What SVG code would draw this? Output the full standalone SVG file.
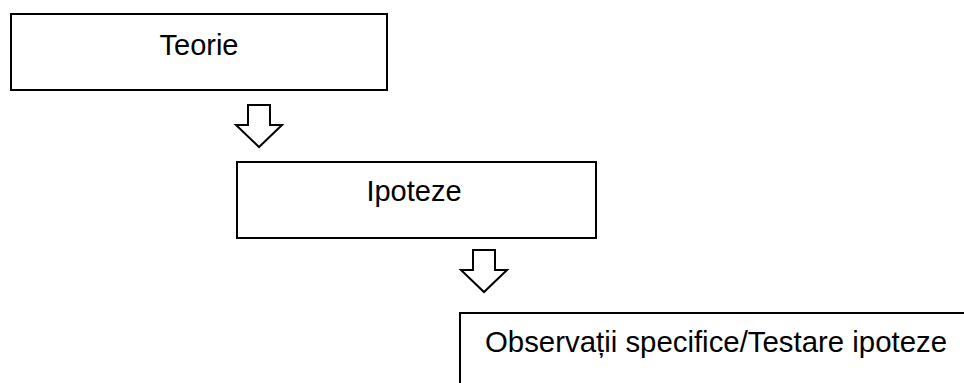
<svg xmlns="http://www.w3.org/2000/svg" width="964" height="383" viewBox="0 0 964 383">
<style>
.box{fill:#fff;stroke:#000;stroke-width:2}
.lbl{font-family:"Liberation Sans",Arial,sans-serif;font-size:29px;fill:#000}
.arr{fill:#fff;stroke:#000;stroke-width:2;stroke-linejoin:miter}
</style>
<rect width="964" height="383" fill="#fff"/>
<g id="teorie">
<rect class="box" x="11" y="14" width="376" height="76"/>
<text class="lbl" x="199" y="55" text-anchor="middle">Teorie</text>
</g>
<g id="ipoteze">
<rect class="box" x="237" y="162" width="359" height="76"/>
<text class="lbl" x="414" y="201" text-anchor="middle">Ipoteze</text>
</g>
<g id="observatii">
<rect class="box" x="460" y="313" width="520" height="100"/>
<text class="lbl" x="485" y="352" textLength="462" lengthAdjust="spacingAndGlyphs">Observații specifice/Testare ipoteze</text>
</g>
<g id="connectors">
<polygon class="arr" points="248,105 270,105 270,125 282,125 259,147 236,125 248,125"/>
<polygon class="arr" points="473,250 495,250 495,270 507,270 484,292 461,270 473,270"/>
</g>
</svg>
